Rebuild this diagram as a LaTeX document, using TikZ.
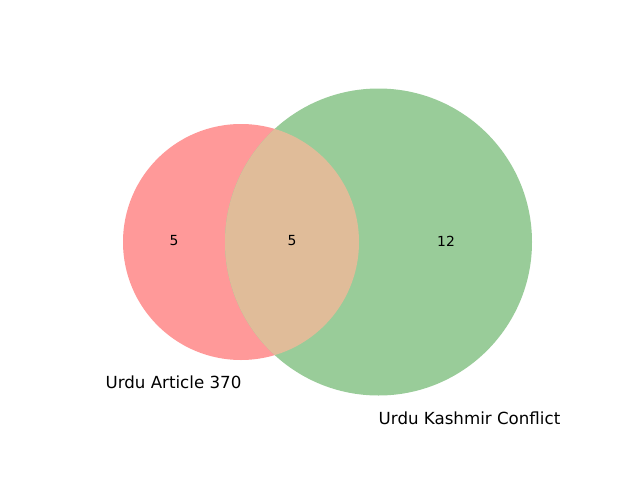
\documentclass[tikz,border=0pt]{standalone}
\usepackage{fontspec}
\setmainfont{DejaVu Sans}
\definecolor{vred}{HTML}{FF9999}
\definecolor{vgreen}{HTML}{99CC99}
\definecolor{vmix}{HTML}{E0BC99}
\begin{document}
\begin{tikzpicture}[x=0.72pt,y=-0.72pt,
  num/.style={font=\fontsize{10}{12}\selectfont, inner sep=0pt},
  setlabel/.style={font=\fontsize{12}{14}\selectfont, inner sep=0pt}]
\useasboundingbox[fill=white] (0,0) rectangle (640,480);
\fill[vred] (241,242) circle[radius=118];
\fill[vgreen] (378.5,242) circle[radius=153.5];
\begin{scope}
  \clip (241,242) circle[radius=118];
  \fill[vmix] (378.5,242) circle[radius=153.5];
\end{scope}
\node[num] (a) at (174,241) {5};
\node[num] (ab) at (292,241) {5};
\node[num] (b) at (446,241) {12};
\node[setlabel] (la) at (173.5,382) {Urdu Article 370};
\node[setlabel] (lb) at (469.5,418) {Urdu Kashmir Conflict};
\end{tikzpicture}
\end{document}
